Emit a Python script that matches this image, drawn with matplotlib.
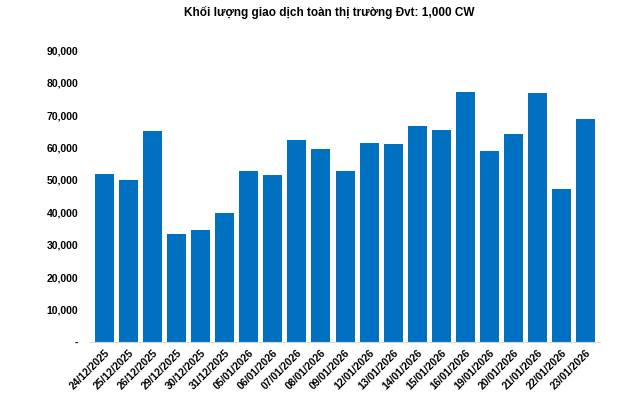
import matplotlib
matplotlib.use("Agg")
import matplotlib.pyplot as plt
from matplotlib.ticker import FuncFormatter

plt.rcParams['font.family'] = ['Liberation Sans', 'DejaVu Sans']

dates = ["24/12/2025", "25/12/2025", "26/12/2025", "29/12/2025", "30/12/2025",
         "31/12/2025", "05/01/2026", "06/01/2026", "07/01/2026", "08/01/2026",
         "09/01/2026", "12/01/2026", "13/01/2026", "14/01/2026", "15/01/2026",
         "16/01/2026", "19/01/2026", "20/01/2026", "21/01/2026", "22/01/2026",
         "23/01/2026"]
volume = [51800, 50000, 65150, 33350, 34600, 39800, 52750, 51500, 62300, 59500,
          52750, 61400, 61050, 66600, 65400, 77100, 58900, 64150, 76800, 47200,
          68750]
yticks = [0, 10000, 20000, 30000, 40000, 50000, 60000, 70000, 80000, 90000]

fig = plt.figure(figsize=(6.4, 3.94), dpi=100)
ax = fig.add_axes([0.1406, 0.131, 0.797, 0.742])

x = list(range(len(dates)))
ax.bar(x, volume, width=0.79, color="#0070C0", zorder=2)

ax.set_xlim(-0.6, len(dates) - 0.4)
ax.set_ylim(0, 90000)
ax.set_yticks(yticks)
ax.yaxis.set_major_formatter(FuncFormatter(lambda v, p: "-" if v == 0 else "{:,.0f}".format(v)))
ax.set_xticks(x)
ax.set_xticklabels(dates, rotation=45, ha="right", rotation_mode="anchor")

for lbl in ax.get_yticklabels() + ax.get_xticklabels():
    lbl.set_fontweight("bold")
    lbl.set_fontsize(7.5)

ax.tick_params(axis="both", length=0)
ax.tick_params(axis="y", pad=8.5)
ax.tick_params(axis="x", pad=4)
for s in ["top", "right", "left"]:
    ax.spines[s].set_visible(False)
ax.spines["bottom"].set_color("#d9d9d9")

fig.text(0.515, 0.968, "Khối lượng giao dịch toàn thị trường Đvt: 1,000 CW",
         ha="center", va="center", fontsize=8.5, fontweight="bold")

fig.savefig("out.png", dpi=100)
